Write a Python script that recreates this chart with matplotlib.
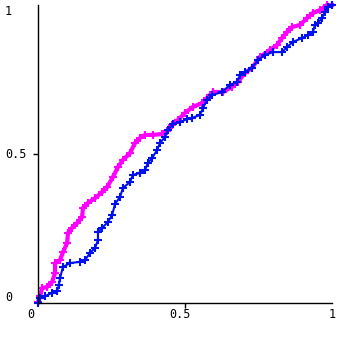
import matplotlib
matplotlib.use("Agg")
import matplotlib.pyplot as plt

# points (P-P style curves)
blue_x = [0, 0.007, 0.024, 0.048, 0.065, 0.071, 0.075, 0.085, 0.109, 0.143, 0.160, 0.177,
          0.194, 0.204, 0.204, 0.218, 0.238, 0.252, 0.262, 0.279, 0.289, 0.313, 0.323, 0.347,
          0.364, 0.374, 0.388, 0.405, 0.415, 0.432, 0.442, 0.459, 0.483, 0.507, 0.524, 0.551,
          0.561, 0.575, 0.592, 0.626, 0.653, 0.677, 0.687, 0.704, 0.728, 0.748, 0.772, 0.799,
          0.830, 0.847, 0.867, 0.898, 0.918, 0.935, 0.942, 0.952, 0.966, 0.976, 0.986, 1.0]
blue_y = [0, 0.017, 0.023, 0.034, 0.040, 0.060, 0.084, 0.121, 0.134, 0.138, 0.144, 0.168,
          0.185, 0.211, 0.238, 0.252, 0.272, 0.295, 0.332, 0.356, 0.386, 0.406, 0.430, 0.436,
          0.446, 0.470, 0.487, 0.513, 0.537, 0.557, 0.581, 0.601, 0.607, 0.617, 0.621, 0.631,
          0.654, 0.681, 0.698, 0.708, 0.732, 0.742, 0.765, 0.775, 0.789, 0.815, 0.832, 0.842,
          0.842, 0.859, 0.876, 0.889, 0.899, 0.909, 0.933, 0.940, 0.956, 0.977, 0.993, 1.0]

pink_x = [0, 0.007, 0.014, 0.031, 0.048, 0.058, 0.058, 0.075, 0.085, 0.099, 0.102, 0.116,
          0.133, 0.150, 0.153, 0.170, 0.194, 0.218, 0.235, 0.255, 0.272, 0.289, 0.313, 0.330,
          0.347, 0.364, 0.391, 0.422, 0.439, 0.456, 0.476, 0.500, 0.527, 0.558, 0.575, 0.595,
          0.629, 0.660, 0.680, 0.704, 0.728, 0.755, 0.789, 0.813, 0.830, 0.847, 0.864, 0.891,
          0.915, 0.935, 0.959, 0.983, 1.0]
pink_y = [0.003, 0.023, 0.050, 0.054, 0.070, 0.101, 0.134, 0.144, 0.171, 0.201, 0.235, 0.252,
          0.268, 0.289, 0.319, 0.336, 0.352, 0.372, 0.389, 0.423, 0.456, 0.480, 0.503, 0.537,
          0.554, 0.564, 0.564, 0.567, 0.577, 0.597, 0.614, 0.638, 0.658, 0.671, 0.688, 0.708,
          0.708, 0.725, 0.742, 0.772, 0.789, 0.826, 0.849, 0.866, 0.889, 0.909, 0.926, 0.933,
          0.956, 0.973, 0.983, 1.0, 1.0]

plt.rcParams['font.family'] = 'DejaVu Sans Mono'
fig = plt.figure(figsize=(3.39, 3.37), dpi=100)
ax = fig.add_axes([38/339, 34/337, 294/339, 298/337])

ax.plot(pink_x, pink_y, color='#ff00ff', lw=3, marker='+', ms=6, mew=1.5, clip_on=False)
ax.plot(blue_x, blue_y, color='#0010ee', lw=1.5, marker='+', ms=6, mew=1.5, clip_on=False)

ax.set_xlim(0, 1)
ax.set_ylim(0, 1)
ax.spines['top'].set_visible(False)
ax.spines['right'].set_visible(False)
ax.spines['left'].set_linewidth(1)
ax.spines['bottom'].set_linewidth(1)
ax.set_xticks([0.5])
ax.set_yticks([0.5])
ax.tick_params(length=3.5, width=1, labelbottom=False, labelleft=False)

fs = 8.5
yt = ax.get_yaxis_transform()
for v, lab in [(0.977, '1'), (0.5, '0.5'), (0.017, '0')]:
    ax.text(-0.112, v, lab, transform=yt, ha='left', va='center', fontsize=fs)
xt = ax.get_xaxis_transform()
for v, lab in [(-0.024, '0'), (0.483, '0.5'), (1.0, '1')]:
    ax.text(v, -0.04, lab, transform=xt, ha='center', va='center', fontsize=fs)

fig.savefig('out.png', dpi=100)
